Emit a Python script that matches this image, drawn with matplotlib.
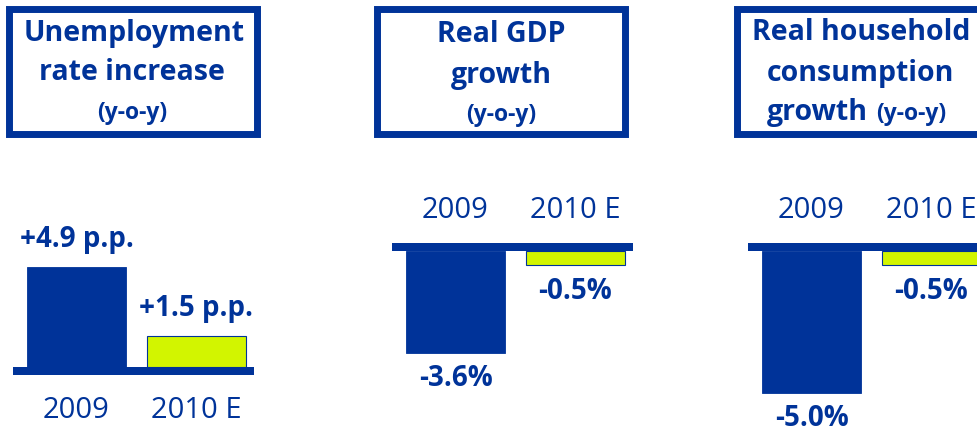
import matplotlib
matplotlib.use("Agg")
import matplotlib.pyplot as plt
from matplotlib.patches import Rectangle

# colours
navy = "#003399"
lime = "#D2F500"

# data
categories = ["2009", "2010 E"]
unemployment = [4.9, 1.5]
gdp_growth = [-3.6, -0.5]
consumption_growth = [-5.0, -0.5]

unemployment_labels = ["+4.9 p.p.", "+1.5 p.p."]
gdp_labels = ["-3.6%", "-0.5%"]
consumption_labels = ["-5.0%", "-0.5%"]

titles = [
    ["Unemployment", "rate increase", "(y-o-y)"],
    ["Real GDP", "growth", "(y-o-y)"],
    ["Real household", "consumption", "growth", "(y-o-y)"],
]

W, H = 977, 429
fig = plt.figure(figsize=(W / 100, H / 100), dpi=100)
plt.rcParams['font.family'] = ['Open Sans', 'DejaVu Sans']


def fx(x):
    return x / W


def fy(y):
    return 1 - y / H


def title_box(x0, x1):
    # border is 7 px thick, the rectangle is drawn on the middle of the stroke
    r = Rectangle((fx(x0 + 3.5), fy(133.5)), fx(x1 - x0 - 7), (133.5 - 8.5) / H,
                  transform=fig.transFigure, facecolor="white", edgecolor=navy,
                  linewidth=5, zorder=1)
    fig.patches.append(r)


def big(x, y, s, **kw):
    fig.text(fx(x), fy(y), s, color=navy, fontsize=20.5, fontweight="bold",
             ha=kw.get("ha", "center"), va=kw.get("va", "center"))


def small(x, y, s, **kw):
    fig.text(fx(x), fy(y), s, color=navy, fontsize=16.5, fontweight="bold",
             ha=kw.get("ha", "center"), va=kw.get("va", "center"))


# title boxes
title_box(5, 260)
big(134, 34, titles[0][0])
big(132, 73, titles[0][1])
small(132, 113, titles[0][2])

title_box(373, 628)
big(501, 35, titles[1][0])
big(501, 75, titles[1][1])
small(501, 115, titles[1][2])

title_box(733, 995)
big(861, 33, titles[2][0])
big(860, 73, titles[2][1])
big(868, 120, titles[2][2], ha="right", va="baseline")
small(876, 120, titles[2][3], ha="left", va="baseline")


def panel(left, zero_px, scale, values, labels, cats_below):
    # axes: 241 px wide, from y=140 px to the bottom of the figure
    ax = fig.add_axes([fx(left), 0, fx(241), fy(140)])
    unit = 119.5
    ax.set_xlim(-63.5 / unit, (241 - 63.5) / unit)
    ax.set_ylim(-(H - zero_px) / scale, (zero_px - 140) / scale)
    ax.axis("off")
    x = [0, 1]
    ax.bar(x[0], values[0], width=99 / unit, color=navy, edgecolor=navy,
           linewidth=0.6, zorder=2)
    ax.bar(x[1], values[1], width=99 / unit, color=lime, edgecolor=navy,
           linewidth=0.8, zorder=2)
    # thick base line, outside the bars
    if cats_below:
        ax.axhspan(-8 / scale, 0, color=navy, zorder=3, lw=0)
    else:
        ax.axhspan(0, 8 / scale, color=navy, zorder=3, lw=0)
    for i in range(2):
        v = values[i]
        off = 28 if v > 0 else -26
        ax.annotate(labels[i], (x[i], v), xytext=(0, off * 0.72),
                    textcoords="offset points", ha="center", va="center",
                    color=navy, fontsize=20, fontweight="bold",
                    annotation_clip=False)
        if cats_below:
            ax.annotate(categories[i], (x[i], 0), xytext=(0, -43 * 0.72),
                        textcoords="offset points", ha="center", va="center",
                        color=navy, fontsize=21, annotation_clip=False)
        else:
            ax.annotate(categories[i], (x[i], 0), xytext=(0, 40 * 0.72),
                        textcoords="offset points", ha="center", va="center",
                        color=navy, fontsize=21, annotation_clip=False)
    return ax


panel(13, 367, 100 / 4.9, unemployment, unemployment_labels, True)
panel(392, 251, 28.2, gdp_growth, gdp_labels, False)
panel(748, 251, 28.4, consumption_growth, consumption_labels, False)

fig.savefig("out.png", dpi=100)
